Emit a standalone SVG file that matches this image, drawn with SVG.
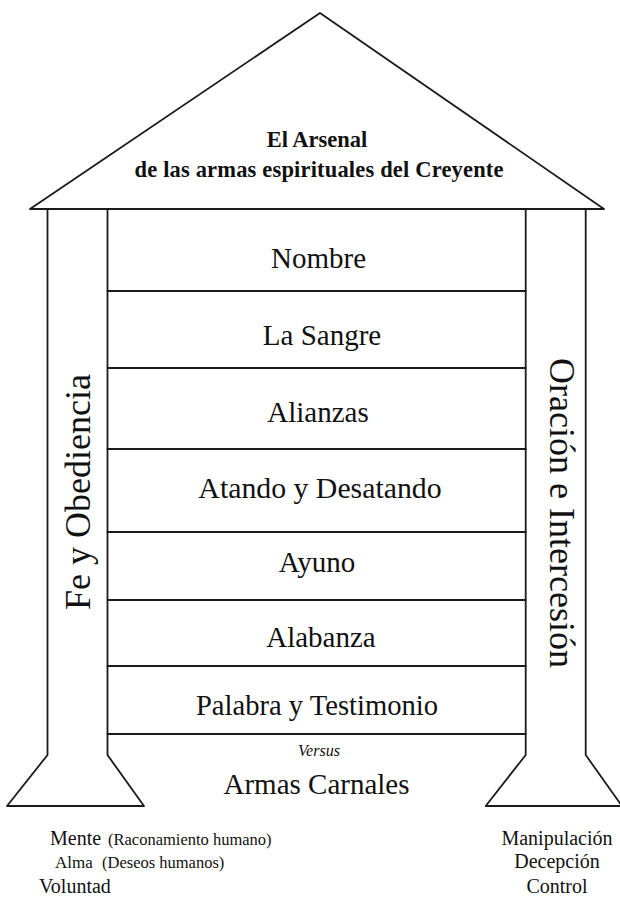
<svg xmlns="http://www.w3.org/2000/svg" width="620" height="897" viewBox="0 0 620 897">
<style>
.ln{fill:none;stroke:#1a1a1a;stroke-width:1.8;stroke-linejoin:round;stroke-linecap:round}
text{fill:#111}
.row{font-size:29px;text-anchor:middle}
.title{font-size:22.5px;font-weight:bold;text-anchor:middle}
.vert{font-size:36px;text-anchor:middle}
.base{font-size:20px}
.small{font-size:16.5px}
</style>
<rect width="620" height="897" fill="#ffffff"/>

<g font-family="Liberation Serif, Times New Roman, Tinos, DejaVu Serif, serif">
<g id="roof">
<polygon class="ln" points="30,209 320,13 604,209"/>
<text class="title" x="317" y="147">El Arsenal</text>
<text class="title" x="319" y="177" textLength="369">de las armas espirituales del Creyente</text>
</g>

<g id="pillar-left">
<path class="ln" d="M47.5,209 V755 L7,806 H144 L107.5,755 V209"/>
<text class="vert" transform="translate(90,492) rotate(-90)" x="0" y="0">Fe y Obediencia</text>
</g>

<g id="pillar-right">
<path class="ln" d="M525.7,209 V755 L485.7,806 H622 L585.7,755 V209"/>
<text class="vert" transform="translate(550,513) rotate(90)" x="0" y="0">Oración e Intercesión</text>
</g>

<g id="connectors">
<line class="ln" x1="107.5" y1="291" x2="525.7" y2="291"/>
<line class="ln" x1="107.5" y1="368" x2="525.7" y2="368"/>
<line class="ln" x1="107.5" y1="449" x2="525.7" y2="449"/>
<line class="ln" x1="107.5" y1="532" x2="525.7" y2="532"/>
<line class="ln" x1="107.5" y1="600" x2="525.7" y2="600"/>
<line class="ln" x1="107.5" y1="666" x2="525.7" y2="666"/>
<line class="ln" x1="107.5" y1="734" x2="525.7" y2="734"/>
</g>

<g id="row-nombre"><text class="row" x="318.5" y="268" font-size="30">Nombre</text></g>
<g id="row-sangre"><text class="row" x="322" y="345">La Sangre</text></g>
<g id="row-alianzas"><text class="row" x="318" y="422">Alianzas</text></g>
<g id="row-atando"><text class="row" x="320" y="498" style="font-size:29.8px">Atando y Desatando</text></g>
<g id="row-ayuno"><text class="row" x="317" y="572">Ayuno</text></g>
<g id="row-alabanza"><text class="row" x="321" y="647">Alabanza</text></g>
<g id="row-palabra"><text class="row" x="317" y="715" style="font-size:28.6px">Palabra y Testimonio</text></g>

<g id="carnales">
<text x="319" y="756" font-size="16" font-style="italic" text-anchor="middle">Versus</text>
<text class="row" x="316.5" y="794">Armas Carnales</text>
</g>

<g id="left-list">
<text class="base" x="50" y="845">Mente<tspan class="small" x="108">(Raconamiento humano)</tspan></text>
<text x="55" y="868" font-size="17">Alma</text>
<text class="small" x="102" y="868">(Deseos humanos)</text>
<text class="base" x="39" y="893">Voluntad</text>
</g>

<g id="right-list">
<text class="base" x="557" y="845" text-anchor="middle">Manipulación</text>
<text class="base" x="557" y="868" text-anchor="middle">Decepción</text>
<text class="base" x="557" y="893" text-anchor="middle">Control</text>
</g>
</g>
</svg>
